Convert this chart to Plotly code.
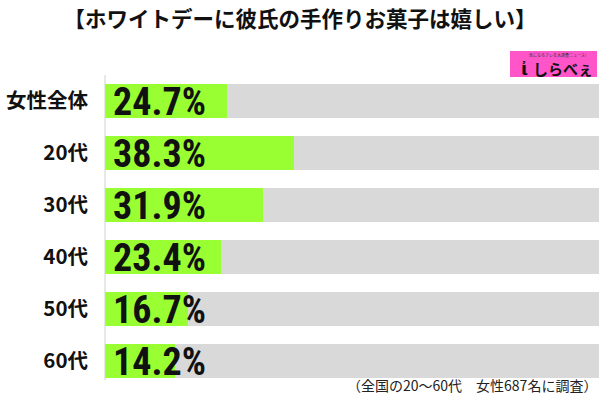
import plotly.graph_objects as go

categories = ["女性全体", "20代", "30代", "40代", "50代", "60代"]
values = [24.7, 38.3, 31.9, 23.4, 16.7, 14.2]
full = [100] * len(categories)
title_text = "【ホワイトデーに彼氏の手作りお菓子は嬉しい】"
note_text = "（全国の20～60代　女性687名に調査）"

JP = "Noto Sans CJK JP"
NARROW = "Liberation Sans Narrow, Arial Narrow, Roboto Condensed, Liberation Sans, sans-serif"

fig = go.Figure()
fig.add_trace(go.Bar(y=categories, x=full, orientation="h", marker=dict(color="#D9D9D9", line=dict(width=0)),
                     width=0.67, hoverinfo="skip", showlegend=False))
fig.add_trace(go.Bar(y=categories, x=values, orientation="h", marker=dict(color="#99FF33", line=dict(width=0)),
                     width=0.67, showlegend=False))

for c, v in zip(categories, values):
    fig.add_annotation(x=0, y=c, xref="x", yref="y", text=f"{v}%", showarrow=False,
                       xanchor="left", yanchor="middle", xshift=6, yshift=-1,
                       font=dict(family=NARROW, size=38, color="#111111", weight=700))

fig.update_layout(
    width=600, height=400,
    margin=dict(l=105, r=1, t=75, b=13),
    barmode="overlay",
    plot_bgcolor="white", paper_bgcolor="white",
    bargap=0,
    xaxis=dict(range=[0, 100], visible=False, fixedrange=True),
    yaxis=dict(autorange="reversed", showgrid=False, ticks="", showline=False,
               ticklabelstandoff=16,
               tickfont=dict(family=JP, size=20.5, color="#111111", weight=700)),
    title=dict(text=title_text, x=0.5, xref="container", xanchor="center", y=1 - 19 / 400, yref="container",
               yanchor="middle", font=dict(family=JP, size=21.5, color="#111111", weight=700)),
    showlegend=False,
)

# vertical axis line
fig.add_shape(type="line", xref="paper", yref="paper", x0=0, x1=0,
              y0=(388 - 381) / 313, y1=1.0, line=dict(color="#D0D0D0", width=1), layer="above")

# logo box
fig.add_shape(type="rect", xref="paper", yref="paper",
              x0=(510 - 105) / 494, x1=(597 - 105) / 494,
              y0=(388 - 77) / 313, y1=(388 - 51) / 313,
              fillcolor="#FF55C8", line=dict(width=0), layer="above")
fig.add_annotation(xref="paper", yref="paper", x=(563 - 105) / 494, y=(388 - 68) / 313,
                   text="しらべぇ", showarrow=False, xanchor="center", yanchor="middle",
                   font=dict(family=JP, size=15, color="#111111", weight=700))
fig.add_annotation(xref="paper", yref="paper", x=(557 - 105) / 494, y=(388 - 55) / 313,
                   text="気になるアレを大調査ニュース!", showarrow=False, xanchor="center", yanchor="middle",
                   font=dict(family=JP, size=4, color="#333333"))
fig.add_annotation(xref="paper", yref="paper", x=(524 - 105) / 494, y=(388 - 68) / 313,
                   text="ἰ", showarrow=False, xanchor="center", yanchor="middle",
                   font=dict(family="DejaVu Sans", size=18, color="#111111", weight=700))

fig.add_annotation(xref="paper", yref="paper", x=1, y=(388 - 386) / 313, text=note_text, showarrow=False,
                   xanchor="right", yanchor="middle",
                   font=dict(family=JP, size=14, color="#222222"))

fig.write_html("out.html")
